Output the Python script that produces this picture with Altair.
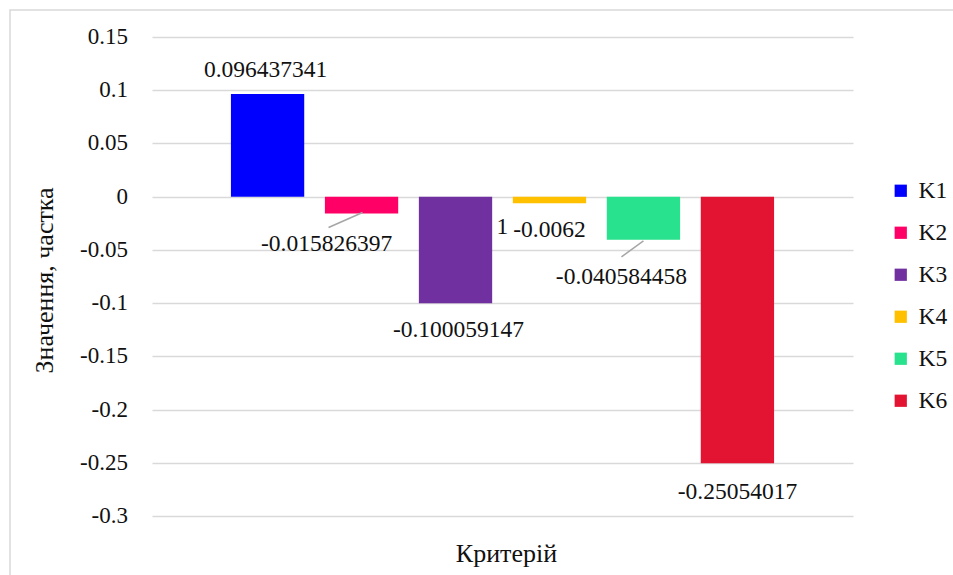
import altair as alt
import pandas as pd

categories = ["K1", "K2", "K3", "K4", "K5", "K6"]
values = [0.096437341, -0.015826397, -0.100059147, -0.0062, -0.040584458, -0.25054017]
colors = ["#0000FF", "#FF0066", "#7030A0", "#FFC000", "#29E28D", "#E31432"]
y_ticks = [0.15, 0.1, 0.05, 0, -0.05, -0.1, -0.15, -0.2, -0.25, -0.3]
tick_labels = ["0.15", "0.1", "0.05", "0", "-0.05", "-0.1", "-0.15", "-0.2", "-0.25", "-0.3"]
label_texts = ["0.096437341", "-0.015826397", "-0.100059147", "-0.0062", "-0.040584458", "-0.25054017"]
x_title = "Критерій"
y_title = "Значення, частка"

df = pd.DataFrame({"k": categories, "v": values, "t": label_texts})
ticks_df = pd.DataFrame({"tv": y_ticks, "tl": tick_labels})

FONT = "Liberation Serif"
FS_LBL = 23.5
FS_TICK = 23
FS_TITLE = 26
TXT = "#111111"
W, H = 701, 479

xscale = alt.Scale(domain=categories, paddingInner=0.22, paddingOuter=0.84)
yscale = alt.Scale(domain=[-0.3, 0.15], nice=False, zero=False)

x_axis = alt.Axis(labels=False, ticks=False, domain=False, grid=False, title=None)
y_axis = alt.Axis(values=y_ticks, labels=False, ticks=False, domain=False, grid=True,
                  gridColor="#d9d9d9", gridWidth=1.5, title=None)

base = alt.Chart(df)

bars = base.mark_bar().encode(
    x=alt.X("k:N", scale=xscale, axis=x_axis),
    y=alt.Y("v:Q", scale=yscale, axis=y_axis),
    y2=alt.datum(0),
    color=alt.Color("k:N", scale=alt.Scale(domain=categories, range=colors),
                    legend=alt.Legend(title=None, symbolType="square", symbolSize=150,
                                      symbolStrokeWidth=0, rowPadding=17, labelOffset=6,
                                      labelFont=FONT, labelFontSize=FS_LBL, labelColor=TXT,
                                      orient="none", legendX=W + 36, legendY=142)),
)

# y tick labels, placed through the y scale
tick_text = alt.Chart(ticks_df).mark_text(
    font=FONT, fontSize=FS_TICK, color=TXT, align="right", baseline="middle"
).encode(x=alt.value(-24), y=alt.Y("tv:Q", scale=yscale, axis=y_axis), text="tl:N")

# axis titles
titles_df = pd.DataFrame({"a": [0]})
ytitle = alt.Chart(titles_df).mark_text(
    font=FONT, fontSize=FS_TITLE, color=TXT, angle=270, align="center", baseline="middle", text=y_title
).encode(x=alt.value(-107), y=alt.value(H / 2 + 4))
xtitle = alt.Chart(titles_df).mark_text(
    font=FONT, fontSize=FS_TITLE, color=TXT, align="center", baseline="middle", text=x_title
).encode(x=alt.value(W / 2 + 4), y=alt.value(H + 38))

# chart border (top and left edges visible, the rest runs off the page)
border = alt.Chart(titles_df).mark_rect(
    fill=None, stroke="#d9d9d9", strokeWidth=1.5
).encode(x=alt.value(-142), x2=alt.value(W + 110), y=alt.value(-27), y2=alt.value(H + 70))

# per-label offsets (dx, dy) relative to bar centre / value end
offsets = {
    "K1": (-2, -24),
    "K2": (-35, 30),
    "K3": (3, 27),
    "K4": (0, 27),
    "K5": (-22, 37),
    "K6": (0, 29),
}

layers = [bars, tick_text]
for k, (dx, dy) in offsets.items():
    layers.append(
        base.transform_filter(alt.datum.k == k).mark_text(
            font=FONT, fontSize=FS_LBL, color=TXT, dx=dx, dy=dy, baseline="middle"
        ).encode(x=alt.X("k:N", scale=xscale, axis=x_axis),
                 y=alt.Y("v:Q", scale=yscale, axis=y_axis), text="t:N")
    )

# stray "1" label next to K4
layers.append(
    base.transform_filter(alt.datum.k == "K4").mark_text(
        font=FONT, fontSize=FS_LBL, color=TXT, dx=-47, dy=24, baseline="middle"
    ).encode(x=alt.X("k:N", scale=xscale, axis=x_axis),
             y=alt.Y("v:Q", scale=yscale, axis=y_axis), text=alt.value("1"))
)

# leader lines (pixel offsets from the bar end point)
leader_offsets = {"K2": (-33, 14, 1, -1), "K5": (-22, 17, 0, 1)}
for k, (ox, oy, ox2, oy2) in leader_offsets.items():
    layers.append(
        base.transform_filter(alt.datum.k == k).mark_rule(
            color="#a6a6a6", strokeWidth=1.5,
            xOffset=ox, yOffset=oy, x2Offset=ox2, y2Offset=oy2
        ).encode(x=alt.X("k:N", scale=xscale, axis=x_axis), x2="k:N",
                 y=alt.Y("v:Q", scale=yscale, axis=y_axis), y2="v:Q")
    )

layers += [ytitle, xtitle, border]

chart = alt.layer(*layers).properties(
    width=W, height=H,
    padding={"left": 152, "top": 37, "right": 100, "bottom": 59},
    autosize=alt.AutoSizeParams(type="none"),
    background="white",
).configure_view(stroke=None)

chart.save("out.html", embed_options={"renderer": "svg", "actions": False})
